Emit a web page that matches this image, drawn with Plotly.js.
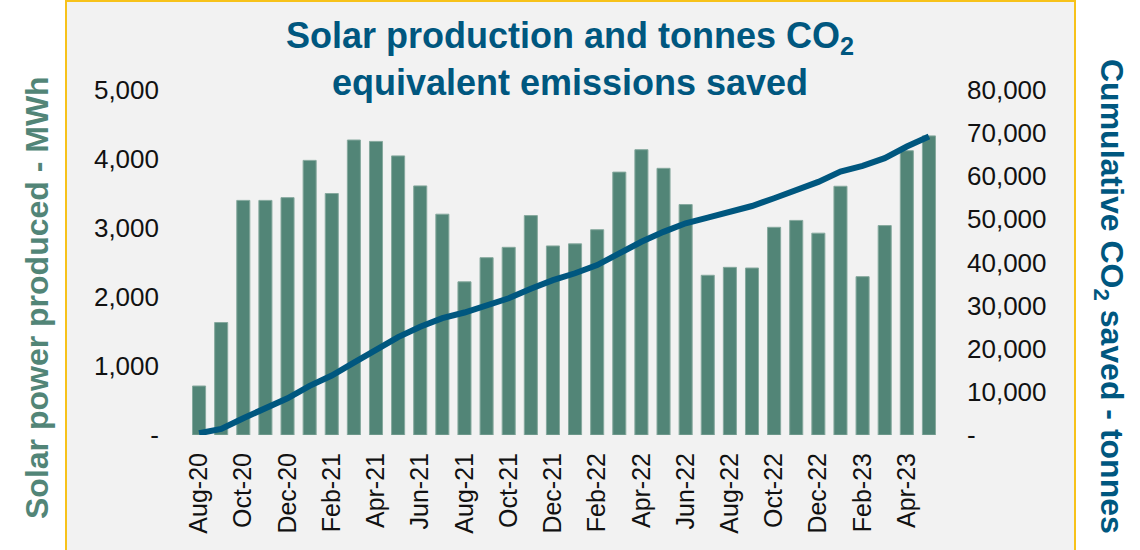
<!DOCTYPE html>
<html>
<head>
<meta charset="utf-8">
<script src="https://cdn.plot.ly/plotly-3.0.1.min.js"></script>
<style>
  html, body { margin: 0; padding: 0; background: #ffffff; }
  #chart { width: 1140px; height: 550px; }
</style>
</head>
<body>
<div id="chart"></div>
<script>
// ---- Data ----
const months = [
  'Aug-20','Sep-20','Oct-20','Nov-20','Dec-20',
  'Jan-21','Feb-21','Mar-21','Apr-21','May-21','Jun-21','Jul-21','Aug-21','Sep-21','Oct-21','Nov-21','Dec-21',
  'Jan-22','Feb-22','Mar-22','Apr-22','May-22','Jun-22','Jul-22','Aug-22','Sep-22','Oct-22','Nov-22','Dec-22',
  'Jan-23','Feb-23','Mar-23','Apr-23','May-23'
];
// Solar power produced (MWh), monthly
const solarMWh = [
  710, 1630, 3400, 3400, 3440,
  3980, 3500, 4275, 4255, 4045, 3610, 3200, 2220, 2570, 2720, 3180, 2740,
  2770, 2975, 3810, 4135, 3865, 3340, 2315, 2430, 2420, 3010, 3110, 2925,
  3605, 2295, 3035, 4120, 4335
];
// Cumulative CO2 saved (tonnes)
const co2Cumulative = [
  400, 1400, 3900, 6200, 8500,
  11400, 13800, 16800, 19700, 22700, 25100, 27100, 28400, 30000, 31700, 33900, 35900,
  37500, 39400, 42100, 44800, 47100, 49100, 50400, 51800, 53100, 54900, 56800, 58700,
  61100, 62400, 64200, 66900, 69200
];
// Axis tick labels
const leftTickVals  = [0, 1000, 2000, 3000, 4000, 5000];
const leftTickText  = ['-', '1,000', '2,000', '3,000', '4,000', '5,000'];
const rightTickVals = [0, 10000, 20000, 30000, 40000, 50000, 60000, 70000, 80000];
const rightTickText = ['-', '10,000', '20,000', '30,000', '40,000', '50,000', '60,000', '70,000', '80,000'];
const xTickLabels = months.filter((m, i) => i % 2 === 0);

// ---- Styling ----
const FONT = 'Liberation Sans, Arial, Helvetica, sans-serif';
const BAR_COLOR = '#528577';
const LINE_COLOR = '#00577f';

// Pixel layout helpers (plot area)
const W = 1140, H = 550;
const M = { l: 188, r: 200, t: 90, b: 115 };
const PW = W - M.l - M.r, PH = H - M.t - M.b;
const px = x => (x - M.l) / PW;
const py = y => (H - M.b - y) / PH;

const traces = [
  {
    type: 'bar',
    x: months,
    y: solarMWh,
    name: 'Solar power produced',
    marker: { color: BAR_COLOR, line: { color: '#86a99e', width: 1 } },
    hoverinfo: 'x+y'
  },
  {
    type: 'scatter',
    mode: 'lines',
    x: months,
    y: co2Cumulative,
    yaxis: 'y2',
    name: 'Cumulative CO2 saved',
    line: { color: LINE_COLOR, width: 6 },
    hoverinfo: 'x+y'
  }
];

const layout = {
  width: W,
  height: H,
  margin: M,
  paper_bgcolor: '#ffffff',
  plot_bgcolor: 'rgba(0,0,0,0)',
  showlegend: false,
  bargap: 0.41,
  font: { family: FONT, color: '#111111' },
  title: {
    text: '<b>Solar production and tonnes CO<sub>2</sub></b><br><b>equivalent emissions saved</b>',
    font: { family: FONT, size: 36, color: LINE_COLOR },
    x: 0.5, xref: 'container', xanchor: 'center',
    y: 0.913, yref: 'container', yanchor: 'top'
  },
  xaxis: {
    type: 'category',
    tickmode: 'array',
    tickvals: xTickLabels,
    ticktext: xTickLabels,
    tickangle: -90,
    tickfont: { family: FONT, size: 25, color: '#111111' },
    ticks: '',
    ticklabelstandoff: 12,
    showgrid: false,
    showline: false,
    zeroline: false,
    fixedrange: true
  },
  yaxis: {
    range: [0, 5000],
    tickmode: 'array',
    tickvals: leftTickVals,
    ticktext: leftTickText,
    tickfont: { family: FONT, size: 26, color: '#111111' },
    ticks: '',
    ticklabelstandoff: 28,
    showgrid: false,
    showline: false,
    zeroline: false,
    fixedrange: true
  },
  yaxis2: {
    range: [0, 80000],
    overlaying: 'y',
    side: 'right',
    tickmode: 'array',
    tickvals: rightTickVals,
    ticktext: rightTickText,
    tickfont: { family: FONT, size: 26, color: '#111111' },
    ticks: '',
    ticklabelstandoff: 26,
    showgrid: false,
    showline: false,
    zeroline: false,
    fixedrange: true
  },
  shapes: [
    {
      type: 'rect', xref: 'paper', yref: 'paper', layer: 'below',
      x0: px(66), x1: px(1075), y0: py(560), y1: py(1),
      fillcolor: '#f2f2f2',
      line: { color: '#f7c21a', width: 2 }
    }
  ],
  annotations: [
    {
      xref: 'paper', yref: 'paper',
      x: px(37), y: py(298),
      xanchor: 'center', yanchor: 'middle',
      textangle: -90,
      showarrow: false,
      text: '<b>Solar power produced - MWh</b>',
      font: { family: FONT, size: 32, color: BAR_COLOR }
    },
    {
      xref: 'paper', yref: 'paper',
      x: px(1110), y: py(296),
      xanchor: 'center', yanchor: 'middle',
      textangle: 90,
      showarrow: false,
      text: '<b>Cumulative CO<sub>2</sub> saved - tonnes</b>',
      font: { family: FONT, size: 32, color: LINE_COLOR }
    }
  ]
};

Plotly.newPlot('chart', traces, layout, { displayModeBar: false, staticPlot: true });
</script>
</body>
</html>
